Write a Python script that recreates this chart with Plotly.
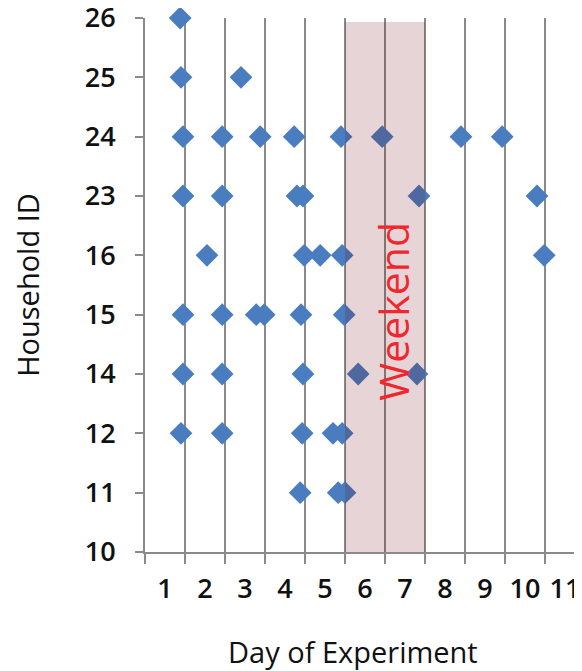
import plotly.graph_objects as go

household_ids = ["10", "11", "12", "14", "15", "16", "23", "24", "25", "26"]
day_labels = ["1", "2", "3", "4", "5", "6", "7", "8", "9", "10", "11"]

# Observations: (day position, household)
obs_day = [
    0.88,
    0.9, 2.4,
    0.95, 1.93, 2.88, 3.73, 4.9, 5.93, 7.9, 8.93,
    0.95, 1.93, 3.8, 3.95, 6.85, 9.8,
    1.55, 3.98, 4.38, 4.93, 9.98,
    0.95, 1.93, 2.78, 2.98, 3.9, 4.98,
    0.95, 1.93, 3.95, 5.33, 6.8,
    0.9, 1.93, 3.93, 4.7, 4.93,
    3.88, 4.83, 5.0,
]
obs_household = (
    ["26"]
    + ["25"] * 2
    + ["24"] * 8
    + ["23"] * 6
    + ["16"] * 5
    + ["15"] * 6
    + ["14"] * 5
    + ["12"] * 5
    + ["11"] * 3
)

weekend_start = 5
weekend_end = 7

font_family = "Open Sans, Lato, sans-serif"
grid_col = "#8a8a8a"

fig = go.Figure()
fig.add_trace(go.Scatter(
    x=obs_day, y=obs_household, mode="markers",
    marker=dict(symbol="diamond", size=17.5, color="#4a7dbf", line=dict(width=0)),
    cliponaxis=False, showlegend=False, hoverinfo="x+y",
))

fig.add_shape(type="rect", xref="x", yref="paper",
              x0=weekend_start, x1=weekend_end, y0=0, y1=0.9925,
              fillcolor="rgba(115,0,10,0.17)", line=dict(width=0), layer="above")

fig.add_annotation(x=6.2, y=4.05, xref="x", yref="y", text="Weekend",
                   textangle=-90, showarrow=False,
                   font=dict(family=font_family, size=41, color="#f0282e"))

fig.add_annotation(x=0.467, y=-0.187, xref="paper", yref="paper",
                   xanchor="center", yanchor="middle",
                   text="Day of Experiment", showarrow=False,
                   font=dict(family=font_family, size=29, color="#111111"))

fig.update_layout(
    width=582, height=671,
    margin=dict(l=137, r=0, t=10, b=127),
    paper_bgcolor="white", plot_bgcolor="white",
    font=dict(family=font_family, color="#111111"),
    xaxis=dict(
        range=[0, 11.125], automargin=False,
        tickmode="array",
        tickvals=[i + 0.5 for i in range(len(day_labels))],
        ticktext=day_labels,
        ticks="", showgrid=False, zeroline=False,
        showline=True, linecolor=grid_col, linewidth=2,
        tickfont=dict(size=27, color="#111111", weight=600),
        ticklabelstandoff=12,
        minor=dict(tickmode="linear", tick0=0, dtick=1, ticks="outside",
                   ticklen=10, tickwidth=2, tickcolor=grid_col,
                   showgrid=True, gridcolor=grid_col, gridwidth=2),
    ),
    yaxis=dict(
        type="category", categoryorder="array", categoryarray=household_ids,
        range=[0, 9], automargin=False,
        showgrid=False, zeroline=False,
        showline=True, linecolor=grid_col, linewidth=2,
        ticks="outside", ticklen=8, tickwidth=2, tickcolor=grid_col,
        tickfont=dict(size=27, color="#111111", weight=600),
        ticklabelstandoff=14,
        title=dict(text="Household ID", font=dict(size=29, color="#111111"), standoff=40),
    ),
)

fig.write_html("out.html")
